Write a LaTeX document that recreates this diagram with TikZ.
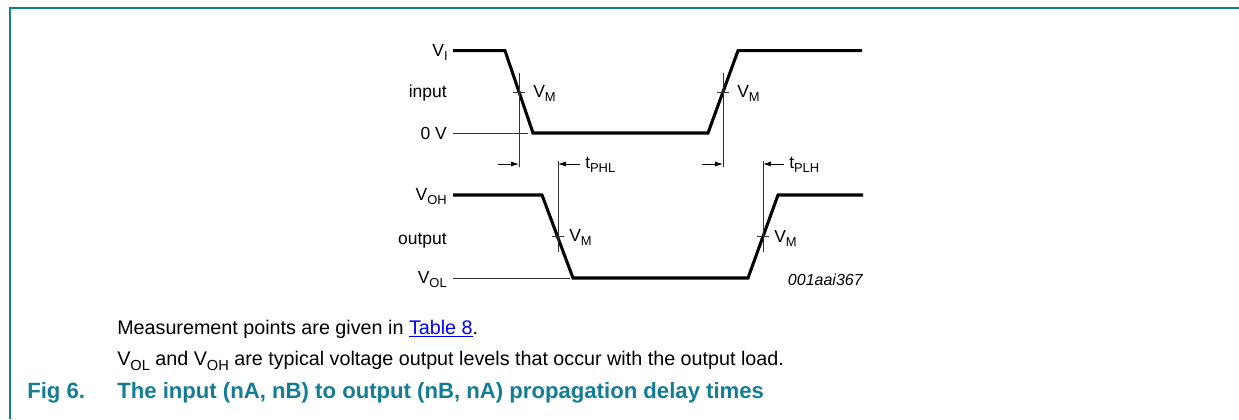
\documentclass[tikz,border=0pt]{standalone}
\usepackage{fontspec}
\usepackage{graphicx}
\setmainfont{Liberation Sans}
\usetikzlibrary{arrows.meta}
\definecolor{figteal}{RGB}{20,125,148}
\definecolor{linkblue}{RGB}{0,0,255}
\newcommand{\lvl}[1]{\raisebox{-0.27em}{\scalebox{0.74}{#1}}}
\tikzset{
  signal/.style={line width=2.3pt, line join=miter},
  guide/.style={line width=0.6pt, black!80},
  dimarrow/.style={-{Latex[length=6pt,width=3.8pt]}, line width=0.6pt},
  lbl/.style={font=\fontsize{13.1pt}{15pt}\selectfont, inner sep=0pt},
  txt/.style={font=\fontsize{14.8pt}{17pt}\selectfont, inner sep=0pt, anchor=base west},
}
\begin{document}
\begin{tikzpicture}[x=0.75pt, y=-0.75pt]
  \useasboundingbox (0,0) rectangle (1239,419);
  % Frame
  \draw[figteal, line width=1.1pt] (10,419) -- (10,8) -- (1239,8);
  % Input
  \draw[guide] (453,133) -- (528,133);
  \draw[signal] (453,50.7) -- (505,50.7) -- (533,133) -- (708,133) -- (738,50.7) -- (862,50.7);
  \node[lbl, anchor=base east] (vi) at (448,56) {V\lvl{I}};
  \node[lbl, anchor=base east] (inlab) at (447,97) {input};
  \node[lbl, anchor=base east] (zero) at (447,139) {0 V};
  % Output
  \draw[guide] (453,278) -- (570,278);
  \draw[signal] (453,195) -- (542,195) -- (573,278) -- (748,278) -- (778,195) -- (863,195);
  \node[lbl, anchor=base east] (voh) at (447,200) {V\lvl{OH}};
  \node[lbl, anchor=base east] (outlab) at (447,244) {output};
  \node[lbl, anchor=base east] (vol) at (447,283) {V\lvl{OL}};
  % Measurement points
  \coordinate (inF) at (519,92);
  \coordinate (inR) at (723,92);
  \coordinate (outF) at (558,236.5);
  \coordinate (outR) at (763,236.5);
  \foreach \p in {inF,inR} {
    \draw[guide] ([yshift=14.25pt]\p) -- ([yshift=-56.25pt]\p);
    \draw[guide] ([xshift=-4.5pt]\p) -- ([xshift=4.5pt]\p);
  }
  \foreach \p in {outF,outR} {
    \draw[guide] ([yshift=57pt]\p) -- ([yshift=-11.6pt]\p);
    \draw[guide] ([xshift=-4.5pt]\p) -- ([xshift=4.5pt]\p);
  }
  \node[lbl, anchor=base west] (vm1) at (533,97) {V\lvl{M}};
  \node[lbl, anchor=base west] (vm2) at (737,97) {V\lvl{M}};
  \node[lbl, anchor=base west] (vm3) at (569,241) {V\lvl{M}};
  \node[lbl, anchor=base west] (vm4) at (774,242) {V\lvl{M}};
  % Delay arrows
  \coordinate (a1) at (498,164);
  \coordinate (a2) at (702,164);
  \coordinate (b1) at (580,164);
  \coordinate (b2) at (784,164);
  \draw[dimarrow] (a1) -- (a1 -| inF);
  \draw[dimarrow] (a2) -- (a2 -| inR);
  \draw[dimarrow] (b1) -- (b1 -| outF);
  \draw[dimarrow] (b2) -- (b2 -| outR);
  \node[lbl, anchor=base west] (tphl) at (585,168) {t\lvl{PHL}};
  \node[lbl, anchor=base west] (tplh) at (789,168) {t\lvl{PLH}};
  \node[font=\fontsize{12pt}{14pt}\selectfont\itshape, inner sep=0pt, anchor=base east] (code) at (863,285) {001aai367};
  % Text below
  \node[txt] (note1) at (117,334) {Measurement points are given in \textcolor{linkblue}{\underline{Table 8}}.};
  \node[txt] (note2) at (117,365) {V\lvl{OL} and V\lvl{OH} are typical voltage output levels that occur with the output load.};
  \node[font=\fontsize{16.6pt}{19pt}\selectfont\bfseries, text=figteal, inner sep=0pt, anchor=base west] (fig) at (27,398) {Fig 6.};
  \node[font=\fontsize{16.6pt}{19pt}\selectfont\bfseries, text=figteal, inner sep=0pt, anchor=base west] (cap) at (117,398) {The input (nA, nB) to output (nB, nA) propagation delay times};
\end{tikzpicture}
\end{document}
